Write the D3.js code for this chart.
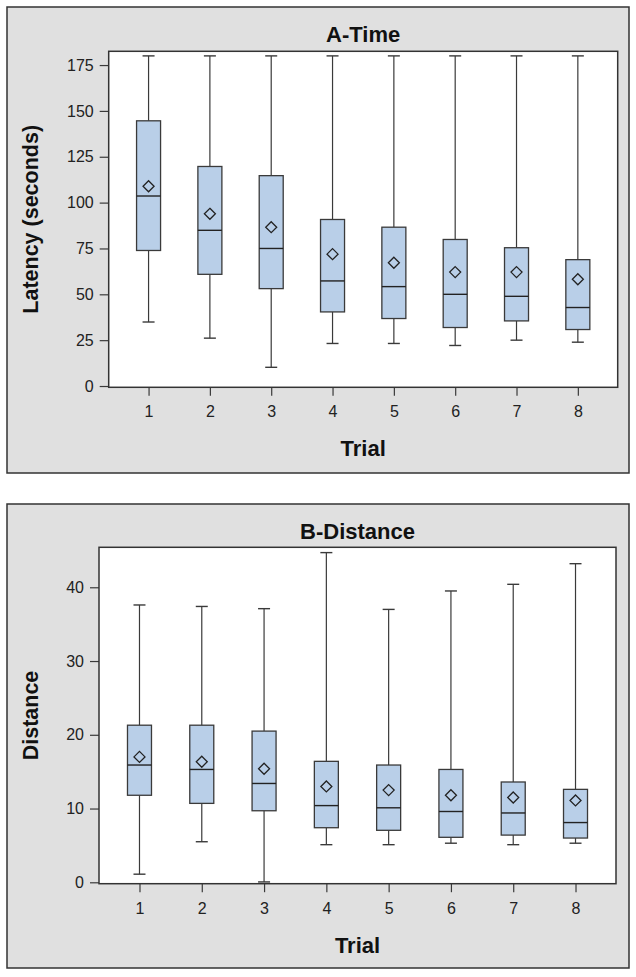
<!DOCTYPE html>
<html><head><meta charset="utf-8">
<script src="https://cdn.jsdelivr.net/npm/d3@7"></script>
<style>
html,body{margin:0;padding:0;background:#fff;}
svg{display:block;font-family:"Liberation Sans",Arial,sans-serif;}
</style></head>
<body>
<script>
const trials = ["1","2","3","4","5","6","7","8"];

// A-Time (Latency, seconds)
const timeMin    = [34.9, 26.1, 10.2, 23.2, 23.2, 22.1, 25.0, 23.9];
const timeQ1     = [73.9, 60.9, 53.1, 40.4, 36.8, 31.9, 35.5, 30.8];
const timeMedian = [103.6, 84.9, 75.0, 57.3, 54.2, 50.0, 48.9, 42.8];
const timeQ3     = [144.6, 119.7, 114.7, 90.8, 86.6, 79.9, 75.4, 68.9];
const timeMax    = [180, 180, 180, 180, 180, 180, 180, 180];
const timeMean   = [108.9, 93.9, 86.6, 71.9, 67.2, 62.1, 62.1, 58.2];
const timeTicks  = [0, 25, 50, 75, 100, 125, 150, 175];

// B-Distance
const distMin    = [1.1, 5.5, 0.05, 5.1, 5.1, 5.3, 5.1, 5.3];
const distQ1     = [11.8, 10.7, 9.7, 7.4, 7.05, 6.1, 6.4, 6.0];
const distMedian = [15.9, 15.3, 13.4, 10.4, 10.1, 9.6, 9.4, 8.1];
const distQ3     = [21.3, 21.3, 20.5, 16.4, 15.9, 15.3, 13.6, 12.6];
const distMax    = [37.6, 37.4, 37.1, 44.7, 37.0, 39.5, 40.4, 43.2];
const distMean   = [17.0, 16.35, 15.4, 13.0, 12.5, 11.8, 11.5, 11.1];
const distTicks  = [0, 10, 20, 30, 40];

const W = 636, H = 977;
const svg = d3.select("body").append("svg").attr("width", W).attr("height", H);

const BG = "#e0e0e0", FRAME = "#333", BOX = "#b9cfe8", LINE = "#3a3a3a";

function panel(opt) {
  const g = svg.append("g");
  g.append("rect").attr("x", opt.outer[0]).attr("y", opt.outer[1])
    .attr("width", opt.outer[2] - opt.outer[0]).attr("height", opt.outer[3] - opt.outer[1])
    .attr("fill", BG).attr("stroke", FRAME).attr("stroke-width", 1.5);

  const x = d3.scalePoint().domain(trials).range([opt.plot[0], opt.plot[2]]).padding(0.65);
  const y = d3.scaleLinear().domain(opt.ydomain).range([opt.plot[3], opt.plot[1]]);

  g.append("rect").attr("x", opt.plot[0]).attr("y", opt.plot[1])
    .attr("width", opt.plot[2] - opt.plot[0]).attr("height", opt.plot[3] - opt.plot[1])
    .attr("fill", "#fff");

  const cx = (opt.plot[0] + opt.plot[2]) / 2;
  g.append("text").attr("x", cx).attr("y", opt.outer[1] + 27)
    .attr("text-anchor", "middle").attr("dominant-baseline", "central")
    .attr("font-size", 22).attr("font-weight", "bold").attr("fill", "#111")
    .text(opt.title);

  const ya = g.append("g").attr("transform", `translate(${opt.plot[0]},0)`)
    .call(d3.axisLeft(y).tickValues(opt.ticks).tickSize(9).tickPadding(6).tickSizeOuter(0));
  ya.select(".domain").remove();
  ya.selectAll("line").attr("stroke", LINE).attr("stroke-width", 1.2);
  ya.selectAll("text").attr("font-size", 16).attr("fill", "#222")
    .attr("font-family", "Liberation Sans, Arial, sans-serif");

  const xa = g.append("g").attr("transform", `translate(0,${opt.plot[3]})`)
    .call(d3.axisBottom(x).tickSize(8.5).tickPadding(10).tickSizeOuter(0));
  xa.select(".domain").remove();
  xa.selectAll("line").attr("stroke", LINE).attr("stroke-width", 1.2);
  xa.selectAll("text").attr("font-size", 16).attr("fill", "#222")
    .attr("font-family", "Liberation Sans, Arial, sans-serif");

  g.append("text").attr("x", cx).attr("y", opt.xTitleY)
    .attr("text-anchor", "middle").attr("dominant-baseline", "central")
    .attr("font-size", 22).attr("font-weight", "bold").attr("fill", "#111").text("Trial");
  const ymid = (opt.plot[1] + opt.plot[3]) / 2;
  g.append("text").attr("transform", `translate(31,${ymid}) rotate(-90)`)
    .attr("text-anchor", "middle").attr("dominant-baseline", "central")
    .attr("font-size", 21.5).attr("font-weight", "bold").attr("fill", "#111").text(opt.ytitle);

  const boxW = 24, capW = 12, dia = 5.5;
  const data = trials.map((t, i) => ({
    t, min: opt.min[i], q1: opt.q1[i], med: opt.med[i], q3: opt.q3[i], max: opt.max[i], mean: opt.mean[i]
  }));
  const bg = g.selectAll("g.box").data(data).join("g").attr("class", "box");
  bg.append("line").attr("x1", d => x(d.t)).attr("x2", d => x(d.t))
    .attr("y1", d => y(d.max)).attr("y2", d => y(d.q3)).attr("stroke", LINE).attr("stroke-width", 1.2);
  bg.append("line").attr("x1", d => x(d.t)).attr("x2", d => x(d.t))
    .attr("y1", d => y(d.q1)).attr("y2", d => y(d.min)).attr("stroke", LINE).attr("stroke-width", 1.2);
  bg.append("line").attr("x1", d => x(d.t) - capW / 2).attr("x2", d => x(d.t) + capW / 2)
    .attr("y1", d => y(d.max)).attr("y2", d => y(d.max)).attr("stroke", LINE).attr("stroke-width", 1.4);
  bg.append("line").attr("x1", d => x(d.t) - capW / 2).attr("x2", d => x(d.t) + capW / 2)
    .attr("y1", d => y(d.min)).attr("y2", d => y(d.min)).attr("stroke", LINE).attr("stroke-width", 1.4);
  bg.append("rect").attr("x", d => x(d.t) - boxW / 2).attr("width", boxW)
    .attr("y", d => y(d.q3)).attr("height", d => y(d.q1) - y(d.q3))
    .attr("fill", BOX).attr("stroke", LINE).attr("stroke-width", 1.3);
  bg.append("line").attr("x1", d => x(d.t) - boxW / 2).attr("x2", d => x(d.t) + boxW / 2)
    .attr("y1", d => y(d.med)).attr("y2", d => y(d.med)).attr("stroke", "#222").attr("stroke-width", 1.4);
  bg.append("path").attr("d", d => {
      const cx = x(d.t), cy = y(d.mean);
      return `M${cx},${cy - dia}L${cx + dia},${cy}L${cx},${cy + dia}L${cx - dia},${cy}Z`;
    }).attr("fill", "none").attr("stroke", "#222").attr("stroke-width", 1.3);

  g.append("rect").attr("x", opt.plot[0]).attr("y", opt.plot[1])
    .attr("width", opt.plot[2] - opt.plot[0]).attr("height", opt.plot[3] - opt.plot[1])
    .attr("fill", "none").attr("stroke", FRAME).attr("stroke-width", 1.5);
}

panel({
  outer: [7, 7, 629, 473],
  plot: [108.7, 51.3, 617.7, 387.3],
  ydomain: [-0.7, 182.5],
  ticks: timeTicks,
  title: "A-Time", ytitle: "Latency (seconds)", xTitleY: 448,
  min: timeMin, q1: timeQ1, med: timeMedian, q3: timeQ3, max: timeMax, mean: timeMean
});

panel({
  outer: [7, 504, 629, 968],
  plot: [99, 547.3, 616, 883.7],
  ydomain: [-0.19, 45.42],
  ticks: distTicks,
  title: "B-Distance", ytitle: "Distance", xTitleY: 945,
  min: distMin, q1: distQ1, med: distMedian, q3: distQ3, max: distMax, mean: distMean
});
</script>
</body></html>
